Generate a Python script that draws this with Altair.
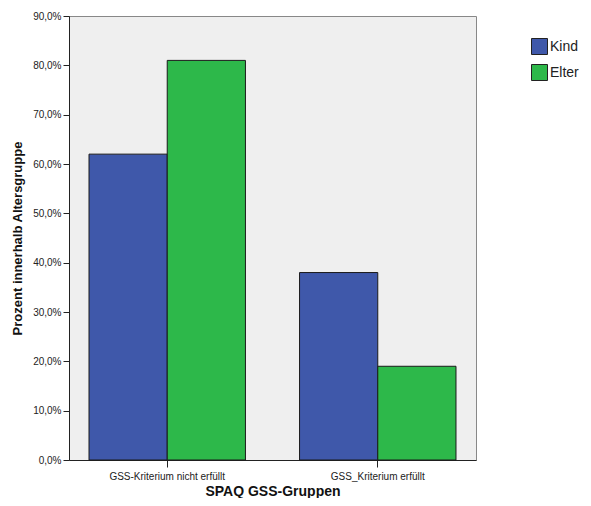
import altair as alt
import pandas as pd

groups = ["GSS-Kriterium nicht erfüllt", "GSS_Kriterium erfüllt"]
series = ["Kind", "Elter"]
kind_vals = [62.0, 38.0]
elter_vals = [81.0, 19.0]
y_ticks = [0, 10, 20, 30, 40, 50, 60, 70, 80, 90]

rows = []
for g, k, e in zip(groups, kind_vals, elter_vals):
    rows.append({"gruppe": g, "alter": "Kind", "pct": k})
    rows.append({"gruppe": g, "alter": "Elter", "pct": e})
df = pd.DataFrame(rows)

FONT = "Liberation Sans"

chart = alt.Chart(df).mark_bar(stroke="#1a1a1a", strokeWidth=1).encode(
    x=alt.X("gruppe:N", sort=groups,
            scale=alt.Scale(paddingInner=0.257, paddingOuter=0.095),
            axis=alt.Axis(title="SPAQ GSS-Gruppen", labelAngle=0, labelFontSize=10,
                          labelFont=FONT, labelColor="#222", titleFont=FONT,
                          titleFontSize=14, titleFontWeight="bold", titleColor="#111",
                          domainColor="#222", tickColor="#222", tickSize=7,
                          labelPadding=4, titlePadding=3)),
    xOffset=alt.XOffset("alter:N", sort=series),
    y=alt.Y("pct:Q", scale=alt.Scale(domain=[0, 90], nice=False),
            axis=alt.Axis(title="Prozent innerhalb Altersgruppe", values=y_ticks,
                          labelExpr="replace(format(datum.value, '.1f'), '.', ',') + '%'",
                          labelFontSize=10, labelFont=FONT, labelColor="#222",
                          titleFont=FONT, titleFontSize=13, titleFontWeight="bold",
                          titleColor="#111", domainColor="#222", tickColor="#222",
                          tickSize=6, grid=False, labelPadding=2, titlePadding=8)),
    color=alt.Color("alter:N", sort=series,
                    scale=alt.Scale(domain=series, range=["#3F58AA", "#2DB84A"]),
                    legend=alt.Legend(title=None, orient="none", legendX=462, legendY=22,
                                      symbolType="square", symbolSize=256,
                                      symbolStrokeColor="#222", symbolStrokeWidth=1,
                                      labelFont=FONT, labelFontSize=14, labelColor="#222",
                                      rowPadding=5, labelOffset=2)),
).properties(
    width=407, height=444,
    background="white",
    padding={"left": 61, "top": 8, "right": 107, "bottom": 38},
    autosize=alt.AutoSizeParams(type="none"),
).configure_view(
    fill="#EFEFEF", stroke="#888888", strokeWidth=1
)

chart.save("out.html", embed_options={"renderer": "svg", "actions": False})
